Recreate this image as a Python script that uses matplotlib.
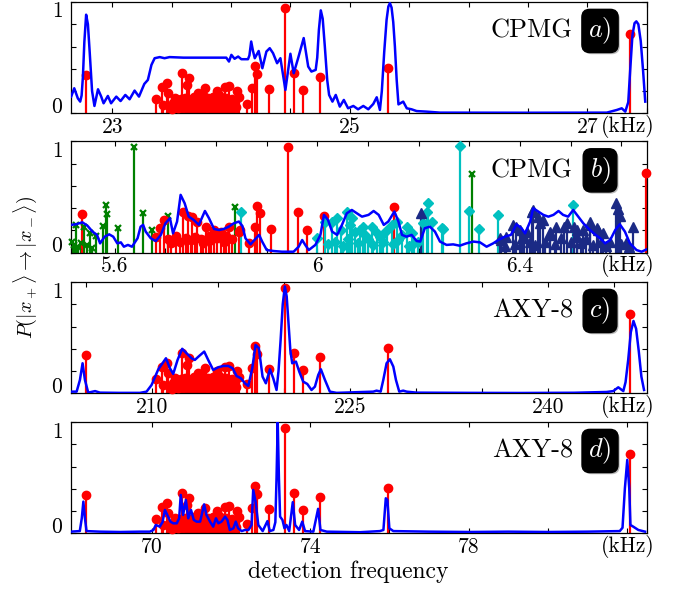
import matplotlib
matplotlib.use('Agg')
import matplotlib.pyplot as plt
import matplotlib.patheffects as pe

plt.rcParams['font.family'] = 'serif'
plt.rcParams['font.serif'] = ['cmr10']
plt.rcParams['mathtext.fontset'] = 'cm'
plt.rcParams['axes.unicode_minus'] = False
plt.rcParams['axes.formatter.use_mathtext'] = True

# ---- stem heights shared by panels a), c), d) (same spins, other harmonic)
stem_p = [0.345, 0.126, 0.234, 0.075, 0.276, 0.18, 0.06, 0.09, 0.135, 0.11,
          0.05, 0.12, 0.13, 0.366, 0.08, 0.14, 0.255, 0.10, 0.315, 0.12,
          0.09, 0.15, 0.11, 0.07, 0.18, 0.13, 0.10, 0.16, 0.225, 0.12,
          0.09, 0.14, 0.08, 0.12, 0.15, 0.11, 0.13, 0.204, 0.10, 0.16,
          0.135, 0.12, 0.07, 0.234, 0.14, 0.10, 0.246, 0.12, 0.08, 0.13,
          0.066, 0.06, 0.204, 0.144, 0.084, 0.231, 0.426, 0.354, 0.216, 0.946,
          0.36, 0.21, 0.324, 0.41, 0.71,
          0.04, 0.07, 0.09, 0.06, 0.11, 0.08, 0.13, 0.12, 0.08, 0.11,
          0.06, 0.12, 0.09, 0.07, 0.11, 0.09, 0.10, 0.07, 0.10, 0.11]

stem_f_a = [22.779, 23.368, 23.421, 23.43, 23.458, 23.466, 23.50, 23.51, 23.528, 23.54,
            23.55, 23.57, 23.58, 23.59, 23.60, 23.61, 23.626, 23.64, 23.646, 23.66,
            23.68, 23.69, 23.70, 23.71, 23.724, 23.74, 23.75, 23.76, 23.78, 23.79,
            23.80, 23.81, 23.83, 23.836, 23.85, 23.86, 23.87, 23.884, 23.89, 23.90,
            23.92, 23.93, 23.94, 23.948, 23.96, 23.97, 23.982, 23.99, 24.00, 24.01,
            24.024, 24.04, 24.047, 24.07, 24.131, 24.176, 24.201, 24.221, 24.319, 24.454,
            24.532, 24.608, 24.749, 25.324, 27.362,
            23.505, 23.535, 23.565, 23.595, 23.625, 23.655, 23.675, 23.715, 23.735, 23.765,
            23.795, 23.825, 23.845, 23.875, 23.905, 23.925, 23.955, 23.985, 24.015, 24.03]

stem_f_c = [205.01, 210.31, 210.79, 210.87, 211.12, 211.19, 211.50, 211.59, 211.75, 211.86,
            211.95, 212.13, 212.22, 212.31, 212.40, 212.49, 212.63, 212.76, 212.81, 212.94,
            213.12, 213.21, 213.30, 213.39, 213.52, 213.66, 213.75, 213.84, 214.02, 214.11,
            214.20, 214.29, 214.47, 214.52, 214.65, 214.74, 214.83, 214.96, 215.01, 215.10,
            215.28, 215.37, 215.46, 215.53, 215.64, 215.73, 215.84, 215.91, 216.00, 216.09,
            216.22, 216.36, 216.42, 216.63, 217.18, 217.58, 217.81, 217.99, 218.87, 220.09,
            220.79, 221.47, 222.74, 227.92, 246.26,
            211.55, 211.82, 212.09, 212.36, 212.63, 212.90, 213.08, 213.44, 213.62, 213.89,
            214.16, 214.43, 214.61, 214.88, 215.15, 215.33, 215.60, 215.87, 216.14, 216.27]

stem_f_d = [68.337, 70.104, 70.263, 70.29, 70.374, 70.398, 70.5, 70.53, 70.584, 70.62,
            70.65, 70.71, 70.74, 70.77, 70.8, 70.83, 70.878, 70.92, 70.938, 70.98,
            71.04, 71.07, 71.1, 71.13, 71.172, 71.22, 71.25, 71.28, 71.34, 71.37,
            71.4, 71.43, 71.49, 71.508, 71.55, 71.58, 71.61, 71.652, 71.67, 71.7,
            71.76, 71.79, 71.82, 71.844, 71.88, 71.91, 71.946, 71.97, 72.0, 72.03,
            72.072, 72.12, 72.141, 72.21, 72.393, 72.528, 72.603, 72.663, 72.957, 73.362,
            73.596, 73.824, 74.247, 75.972, 82.086,
            70.515, 70.605, 70.695, 70.785, 70.875, 70.965, 71.025, 71.145, 71.205, 71.295,
            71.385, 71.475, 71.535, 71.625, 71.715, 71.775, 71.865, 71.955, 72.045, 72.09]

# ---- panel b) four spin groups
b_red_f = [5.536, 5.681, 5.69, 5.698, 5.705, 5.712, 5.72, 5.728, 5.735, 5.74,
           5.745, 5.75, 5.753, 5.758, 5.763, 5.77, 5.775, 5.78, 5.787, 5.79,
           5.796, 5.802, 5.809, 5.815, 5.82, 5.826, 5.832, 5.845, 5.847, 5.865,
           5.876, 5.881, 5.886, 5.909, 5.942, 5.962, 5.979, 6.014, 6.152, 6.648]
b_red_p = [0.345, 0.138, 0.22, 0.294, 0.12, 0.09, 0.15, 0.10, 0.37, 0.13,
           0.33, 0.11, 0.324, 0.14, 0.28, 0.12, 0.09, 0.228, 0.15, 0.11,
           0.204, 0.13, 0.19, 0.10, 0.15, 0.234, 0.12, 0.19, 0.204, 0.084,
           0.234, 0.42, 0.354, 0.21, 0.95, 0.363, 0.204, 0.33, 0.414, 0.715]

b_green_f = [5.515, 5.519, 5.523, 5.528, 5.533, 5.54, 5.546, 5.551, 5.556, 5.563,
             5.576, 5.582, 5.584, 5.607, 5.638, 5.656, 5.673, 5.706, 5.837, 6.306]
b_green_p = [0.10, 0.07, 0.25, 0.054, 0.084, 0.234, 0.07, 0.174, 0.04, 0.15,
             0.243, 0.43, 0.345, 0.22, 0.946, 0.354, 0.204, 0.33, 0.414, 0.706]

b_cyan_f = [5.85, 6.0, 6.016, 6.02, 6.029, 6.035, 6.039, 6.047, 6.05, 6.058,
            6.06, 6.065, 6.068, 6.075, 6.08, 6.084, 6.091, 6.094, 6.1, 6.107,
            6.11, 6.117, 6.124, 6.127, 6.13, 6.137, 6.147, 6.15, 6.157, 6.16,
            6.167, 6.176, 6.18, 6.186, 6.19, 6.198, 6.209, 6.217, 6.219, 6.226,
            6.245, 6.248, 6.282, 6.3, 6.32, 6.357, 6.504]
b_cyan_p = [0.37, 0.135, 0.28, 0.08, 0.273, 0.10, 0.31, 0.20, 0.06, 0.363,
            0.12, 0.25, 0.31, 0.19, 0.09, 0.204, 0.234, 0.16, 0.12, 0.228,
            0.07, 0.174, 0.144, 0.16, 0.10, 0.204, 0.25, 0.08, 0.273, 0.11,
            0.16, 0.234, 0.06, 0.174, 0.09, 0.10, 0.264, 0.37, 0.444, 0.28,
            0.22, 0.213, 0.955, 0.375, 0.21, 0.34, 0.43]

b_navy_f = [6.205, 6.36, 6.363, 6.37, 6.373, 6.386, 6.39, 6.393, 6.4, 6.403,
            6.407, 6.413, 6.42, 6.423, 6.426, 6.43, 6.436, 6.439, 6.446, 6.45,
            6.459, 6.46, 6.47, 6.472, 6.48, 6.486, 6.492, 6.5, 6.506, 6.512,
            6.513, 6.52, 6.525, 6.53, 6.538, 6.539, 6.545, 6.551, 6.554, 6.56,
            6.564, 6.57, 6.577, 6.589, 6.594, 6.597, 6.6, 6.61, 6.615, 6.623]
b_navy_p = [0.354, 0.13, 0.114, 0.06, 0.144, 0.25, 0.08, 0.234, 0.204, 0.13,
            0.144, 0.19, 0.10, 0.37, 0.384, 0.07, 0.324, 0.264, 0.294, 0.10,
            0.19, 0.16, 0.08, 0.234, 0.13, 0.234, 0.264, 0.10, 0.234, 0.204,
            0.144, 0.09, 0.204, 0.12, 0.25, 0.28, 0.07, 0.22, 0.204, 0.10,
            0.174, 0.06, 0.10, 0.444, 0.39, 0.33, 0.08, 0.084, 0.05, 0.234]

# ---- transition probability curves
curve_a_f = [22.654, 22.68, 22.71, 22.73, 22.742, 22.753, 22.765, 22.78, 22.795, 22.81,
             22.83, 22.85, 22.88, 22.907, 22.927, 22.963, 22.99, 23.034, 23.07, 23.11,
             23.146, 23.188, 23.225, 23.27, 23.3, 23.33, 23.357, 23.4, 23.44, 23.483,
             23.6, 23.75, 23.96, 23.983, 24.003, 24.03, 24.06, 24.087, 24.143, 24.155,
             24.17, 24.185, 24.2, 24.233, 24.264, 24.298, 24.326, 24.354, 24.388, 24.416,
             24.458, 24.5, 24.528, 24.565, 24.612, 24.65, 24.677, 24.713, 24.726, 24.74,
             24.756, 24.772, 24.79, 24.81, 24.826, 24.854, 24.882, 24.916, 24.95, 24.986,
             25.03, 25.07, 25.114, 25.156, 25.198, 25.227, 25.254, 25.27, 25.29, 25.31,
             25.325, 25.338, 25.352, 25.366, 25.38, 25.395, 25.41, 25.45, 25.48, 25.52,
             25.563, 25.647, 25.76, 26.5, 27.164, 27.249, 27.29, 27.32, 27.345, 27.362,
             27.38, 27.398, 27.413, 27.43, 27.45, 27.47, 27.488]
curve_a_p = [0.15, 0.225, 0.135, 0.105, 0.16, 0.33, 0.64, 0.886, 0.80, 0.55,
             0.20, 0.066, 0.216, 0.15, 0.09, 0.156, 0.09, 0.15, 0.11, 0.165,
             0.126, 0.204, 0.15, 0.264, 0.30, 0.435, 0.495, 0.505, 0.495, 0.505,
             0.50, 0.50, 0.50, 0.465, 0.525, 0.49, 0.51, 0.486, 0.486, 0.52,
             0.645, 0.56, 0.495, 0.56, 0.405, 0.555, 0.585, 0.54, 0.45, 0.495,
             0.21, 0.535, 0.36, 0.495, 0.676, 0.42, 0.375, 0.39, 0.50, 0.75,
             0.925, 0.85, 0.60, 0.30, 0.165, 0.105, 0.165, 0.06, 0.12, 0.045,
             0.066, 0.036, 0.066, 0.036, 0.084, 0.144, 0.03, 0.20, 0.55, 0.84,
             0.96, 0.99, 0.95, 0.82, 0.60, 0.30, 0.08, 0.105, 0.045, 0.036,
             0.02, 0.015, 0.006, 0.005, 0.006, 0.03, 0.045, 0.015, 0.10, 0.40,
             0.70, 0.81, 0.826, 0.80, 0.65, 0.38, 0.105]

curve_b_f = [5.513, 5.523, 5.536, 5.546, 5.556, 5.565, 5.571, 5.58, 5.589, 5.597,
             5.605, 5.612, 5.618, 5.626, 5.634, 5.645, 5.651, 5.656, 5.661, 5.671,
             5.681, 5.691, 5.70, 5.709, 5.715, 5.723, 5.73, 5.738, 5.746, 5.756,
             5.766, 5.778, 5.786, 5.796, 5.806, 5.815, 5.825, 5.835, 5.845, 5.852,
             5.858, 5.868, 5.879, 5.885, 5.891, 5.90, 5.914, 5.93, 5.953, 5.963,
             5.97, 5.976, 5.983, 5.996, 6.006, 6.013, 6.021, 6.029, 6.039, 6.047,
             6.058, 6.068, 6.078, 6.088, 6.101, 6.111, 6.121, 6.131, 6.14, 6.152,
             6.16, 6.167, 6.176, 6.186, 6.196, 6.203, 6.212, 6.222, 6.232, 6.242,
             6.255, 6.268, 6.281, 6.294, 6.308, 6.321, 6.334, 6.347, 6.357, 6.37,
             6.382, 6.393, 6.403, 6.41, 6.42, 6.426, 6.436, 6.446, 6.456, 6.466,
             6.476, 6.485, 6.495, 6.505, 6.515, 6.525, 6.538, 6.548, 6.558, 6.568,
             6.578, 6.588, 6.597, 6.607, 6.617, 6.63, 6.64, 6.65]
curve_b_p = [0.25, 0.255, 0.273, 0.243, 0.19, 0.16, 0.084, 0.144, 0.165, 0.144,
             0.084, 0.093, 0.054, 0.07, 0.054, 0.13, 0.234, 0.25, 0.19, 0.13,
             0.105, 0.16, 0.264, 0.31, 0.174, 0.28, 0.52, 0.444, 0.324, 0.294,
             0.25, 0.375, 0.31, 0.213, 0.204, 0.213, 0.234, 0.264, 0.28, 0.24,
             0.13, 0.075, 0.13, 0.16, 0.10, 0.024, 0.015, 0.009, 0.009, 0.054,
             0.114, 0.07, 0.024, 0.07, 0.16, 0.34, 0.294, 0.19, 0.16, 0.234,
             0.354, 0.384, 0.354, 0.324, 0.34, 0.375, 0.34, 0.25, 0.28, 0.37,
             0.28, 0.16, 0.144, 0.16, 0.105, 0.10, 0.22, 0.234, 0.19, 0.10,
             0.07, 0.075, 0.063, 0.084, 0.10, 0.093, 0.054, 0.084, 0.114, 0.144,
             0.16, 0.255, 0.22, 0.174, 0.28, 0.40, 0.37, 0.34, 0.324, 0.34,
             0.375, 0.34, 0.324, 0.384, 0.324, 0.264, 0.204, 0.165, 0.13, 0.084,
             0.114, 0.204, 0.255, 0.19, 0.084, 0.024, 0.009, 0.03]

curve_c_f = [203.85, 204.3, 204.55, 204.75, 204.93, 205.18, 205.7, 206.07, 207.5, 209.1,
             209.6, 209.98, 210.49, 211.07, 211.37, 211.62, 211.95, 212.3, 212.63, 213.01,
             213.26, 213.59, 213.97, 214.27, 214.65, 215.03, 215.41, 215.79, 216.12, 216.42,
             216.75, 217.05, 217.31, 217.61, 217.86, 218.11, 218.39, 218.64, 218.95, 219.2,
             219.45, 219.6, 219.76, 219.92, 220.08, 220.22, 220.34, 220.5, 220.64, 220.92,
             221.17, 221.47, 221.78, 222.1, 222.36, 222.61, 222.81, 223.12, 223.49, 224.0,
             226.78, 227.03, 227.34, 227.54, 227.79, 228.04, 228.3, 228.5, 228.75, 229.05,
             229.31, 230.07, 234.0, 238.0, 242.0, 244.46, 244.97, 245.35, 245.73, 245.9,
             246.1, 246.3, 246.5, 246.7, 246.9, 247.1, 247.3]
curve_c_p = [0.015, 0.015, 0.12, 0.27, 0.12, 0.006, 0.02, 0.006, 0.004, 0.004,
             0.015, 0.075, 0.216, 0.315, 0.225, 0.174, 0.30, 0.40, 0.36, 0.315,
             0.30, 0.336, 0.375, 0.30, 0.21, 0.234, 0.246, 0.246, 0.225, 0.156,
             0.135, 0.09, 0.066, 0.225, 0.435, 0.405, 0.15, 0.09, 0.216, 0.135,
             0.03, 0.20, 0.48, 0.80, 0.96, 0.87, 0.66, 0.38, 0.27, 0.285,
             0.195, 0.105, 0.084, 0.03, 0.06, 0.165, 0.216, 0.12, 0.015, 0.004,
             0.015, 0.024, 0.015, 0.12, 0.27, 0.306, 0.24, 0.12, 0.015, 0.024,
             0.015, 0.006, 0.004, 0.003, 0.005, 0.012, 0.02, 0.054, 0.02, 0.10,
             0.30, 0.55, 0.65, 0.58, 0.38, 0.15, 0.03]

curve_d_f = [67.95, 68.18, 68.23, 68.27, 68.31, 68.35, 68.69, 69.2, 69.7, 69.95,
             70.04, 70.1, 70.2, 70.27, 70.33, 70.39, 70.47, 70.54, 70.63, 70.69,
             70.73, 70.79, 70.86, 70.92, 70.99, 71.06, 71.13, 71.22, 71.32, 71.38,
             71.47, 71.55, 71.62, 71.68, 71.76, 71.85, 71.91, 71.97, 72.06, 72.12,
             72.18, 72.27, 72.35, 72.44, 72.52, 72.56, 72.62, 72.69, 72.8, 72.92,
             72.98, 73.07, 73.12, 73.15, 73.18, 73.21, 73.24, 73.3, 73.35, 73.4,
             73.47, 73.56, 73.62, 73.72, 73.8, 73.87, 74.08, 74.2, 74.26, 74.42,
             75.26, 75.76, 75.85, 75.91, 75.95, 76.0, 76.1, 77.0, 78.0, 79.0,
             80.0, 81.0, 81.82, 81.89, 81.95, 82.01, 82.06, 82.09, 82.16, 82.29,
             82.46]
curve_d_p = [0.015, 0.02, 0.135, 0.285, 0.135, 0.02, 0.015, 0.012, 0.015, 0.015,
             0.03, 0.075, 0.06, 0.10, 0.21, 0.165, 0.105, 0.09, 0.09, 0.135,
             0.345, 0.165, 0.30, 0.135, 0.21, 0.12, 0.105, 0.105, 0.26, 0.165,
             0.105, 0.06, 0.135, 0.09, 0.105, 0.15, 0.12, 0.03, 0.045, 0.105,
             0.045, 0.02, 0.03, 0.03, 0.075, 0.39, 0.285, 0.075, 0.02, 0.11,
             0.02, 0.03, 0.10, 0.50, 1.0, 0.50, 0.15, 0.12, 0.045, 0.075,
             0.02, 0.28, 0.075, 0.03, 0.105, 0.02, 0.015, 0.22, 0.03, 0.015,
             0.01, 0.02, 0.03, 0.315, 0.30, 0.045, 0.02, 0.015, 0.012, 0.015,
             0.012, 0.015, 0.02, 0.05, 0.405, 0.66, 0.405, 0.075, 0.06, 0.03,
             0.015]

# ---- axes ticks
ticks_a = [23, 23.5, 24, 24.5, 25, 25.5, 26, 26.5, 27, 27.5]
ticklabels_a = ['23', '', '', '', '25', '', '', '', '27', '']
ticks_b = [5.6, 5.7, 5.8, 5.9, 6.0, 6.1, 6.2, 6.3, 6.4, 6.5, 6.6]
ticklabels_b = ['5.6', '', '', '', '6', '', '', '', '6.4', '', '']
ticks_c = [205, 210, 215, 220, 225, 230, 235, 240, 245]
ticklabels_c = ['', '210', '', '', '225', '', '', '240', '']
ticks_d = [70, 72, 74, 76, 78, 80, 82]
ticklabels_d = ['70', '', '74', '', '78', '', '']

RED = '#ff0000'
BLUE = '#0000ff'
GREEN = '#008000'
CYAN = '#00c0c0'
NAVY = '#1b2a85'
FS = 15.5


def stems(ax, f, p, color, marker, ms, mew=1.0):
    ax.vlines(f, 0, p, colors=color, lw=1.6, zorder=2)
    ax.plot(f, p, ls='none', marker=marker, ms=ms, color=color, mec=color,
            mew=mew, zorder=3, clip_on=False)


def setup(ax, xlim, ticks, labels, method, tag):
    ax.set_xlim(*xlim)
    ax.set_ylim(0, 1)
    ax.set_xticks(ticks)
    ax.set_xticklabels(labels)
    ax.set_yticks([0, 0.2, 0.4, 0.6, 0.8, 1.0])
    ax.set_yticklabels([])
    ax.tick_params(direction='in', top=True, right=True, length=3.5,
                   width=0.8, labelsize=FS, pad=3)
    for s in ax.spines.values():
        s.set_linewidth(0.9)
    # y labels sit a bit inside the axis range
    ax.annotate('0', xy=(0, 0), xycoords='axes fraction', xytext=(-6, 4.5),
                textcoords='offset points', ha='right', va='center', fontsize=FS)
    ax.annotate('1', xy=(0, 1), xycoords='axes fraction', xytext=(-6, -7),
                textcoords='offset points', ha='right', va='center', fontsize=FS)
    ax.annotate('(kHz)', xy=(0.9675, 0), xycoords='axes fraction', xytext=(0, -9.5),
                textcoords='offset points', ha='center', va='center', fontsize=FS)
    ax.text(0.872, 0.74, method, transform=ax.transAxes, ha='right', va='center',
            fontsize=19, zorder=6)
    t = ax.text(0.919, 0.74, '$' + tag + ')$', transform=ax.transAxes, ha='center',
                va='center', fontsize=19, color='white', zorder=6,
                bbox=dict(boxstyle='round,pad=0.24,rounding_size=0.3', fc='black', ec='black'))
    t.get_bbox_patch().set_path_effects([
        pe.withSimplePatchShadow(offset=(1.2, -1.2), shadow_rgbFace='#777777', alpha=0.5)])


fig = plt.figure(figsize=(6.83, 5.91), dpi=100)
L, W, H = 0.1035, 0.8433, 0.1883
ax_a = fig.add_axes([L, 0.8083, W, H])
ax_b = fig.add_axes([L, 0.5724, W, H])
ax_c = fig.add_axes([L, 0.3345, W, H])
ax_d = fig.add_axes([L, 0.0976, W, H])

# a) CPMG
stems(ax_a, stem_f_a, stem_p, RED, 'o', 6)
ax_a.plot(curve_a_f, curve_a_p, color=BLUE, lw=1.8, zorder=4)
setup(ax_a, (22.65, 27.5), ticks_a, ticklabels_a, 'CPMG', 'a')

# b) CPMG, other spin groups
stems(ax_b, b_green_f, b_green_p, GREEN, 'x', 5, mew=1.6)
stems(ax_b, b_red_f, b_red_p, RED, 'o', 6)
stems(ax_b, b_cyan_f, b_cyan_p, CYAN, 'D', 5)
stems(ax_b, b_navy_f, b_navy_p, NAVY, '^', 6.5)
ax_b.plot(curve_b_f, curve_b_p, color=BLUE, lw=1.8, zorder=4)
setup(ax_b, (5.513, 6.65), ticks_b, ticklabels_b, 'CPMG', 'b')

# c) AXY-8
stems(ax_c, stem_f_c, stem_p, RED, 'o', 6)
ax_c.plot(curve_c_f, curve_c_p, color=BLUE, lw=1.8, zorder=4)
setup(ax_c, (203.85, 247.5), ticks_c, ticklabels_c, 'AXY-8', 'c')

# d) AXY-8
stems(ax_d, stem_f_d, stem_p, RED, 'o', 6)
ax_d.plot(curve_d_f, curve_d_p, color=BLUE, lw=1.8, zorder=4)
setup(ax_d, (67.95, 82.5), ticks_d, ticklabels_d, 'AXY-8', 'd')

fig.text(25 / 683, 0.547, r'$P(|x_+\rangle \rightarrow |x_-\rangle)$', rotation=90,
         ha='center', va='center', fontsize=14.5)
fig.text(348 / 683, 1 - 578 / 591, 'detection frequency', ha='center',
         va='baseline', fontsize=17)

fig.savefig('out.png', dpi=100)
